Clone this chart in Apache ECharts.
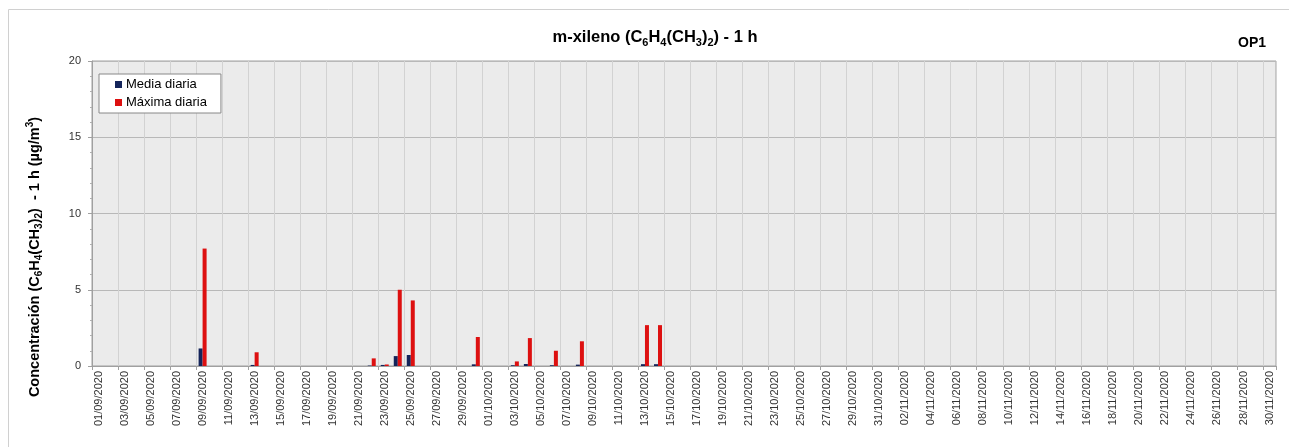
<!DOCTYPE html>
<html>
<head>
<meta charset="utf-8">
<script src="https://cdn.jsdelivr.net/npm/echarts@6/dist/echarts.min.js"></script>
<style>html,body{margin:0;padding:0;background:#fff}#c{width:1289px;height:447px}</style>
</head>
<body>
<div id="c"></div>
<script>
const categories = [
"01/09/2020","02/09/2020","03/09/2020","04/09/2020","05/09/2020","06/09/2020","07/09/2020","08/09/2020","09/09/2020","10/09/2020",
"11/09/2020","12/09/2020","13/09/2020","14/09/2020","15/09/2020","16/09/2020","17/09/2020","18/09/2020","19/09/2020","20/09/2020",
"21/09/2020","22/09/2020","23/09/2020","24/09/2020","25/09/2020","26/09/2020","27/09/2020","28/09/2020","29/09/2020","30/09/2020",
"01/10/2020","02/10/2020","03/10/2020","04/10/2020","05/10/2020","06/10/2020","07/10/2020","08/10/2020","09/10/2020","10/10/2020",
"11/10/2020","12/10/2020","13/10/2020","14/10/2020","15/10/2020","16/10/2020","17/10/2020","18/10/2020","19/10/2020","20/10/2020",
"21/10/2020","22/10/2020","23/10/2020","24/10/2020","25/10/2020","26/10/2020","27/10/2020","28/10/2020","29/10/2020","30/10/2020",
"31/10/2020","01/11/2020","02/11/2020","03/11/2020","04/11/2020","05/11/2020","06/11/2020","07/11/2020","08/11/2020","09/11/2020",
"10/11/2020","11/11/2020","12/11/2020","13/11/2020","14/11/2020","15/11/2020","16/11/2020","17/11/2020","18/11/2020","19/11/2020",
"20/11/2020","21/11/2020","22/11/2020","23/11/2020","24/11/2020","25/11/2020","26/11/2020","27/11/2020","28/11/2020","29/11/2020",
"30/11/2020"
];
const mediaDiaria = [
0,0,0,0,0,0,0,0,1.15,0,
0,0,0.07,0,0,0,0,0,0,0,
0,0.03,0.07,0.65,0.72,0,0,0,0,0.11,
0,0,0.05,0.13,0,0.05,0,0.09,0,0,
0,0,0.12,0.12,null,null,null,null,null,null,
null,null,null,null,null,null,null,null,null,null,
null,null,null,null,null,null,null,null,null,null,
null,null,null,null,null,null,null,null,null,null,
null,null,null,null,null,null,null,null,null,null,
null
];
const maximaDiaria = [
0,0,0,0,0,0,0,0,7.7,0,
0,0,0.9,0,0,0,0,0,0,0,
0,0.5,0.1,5.0,4.3,0,0,0,0,1.9,
0,0,0.3,1.83,0,1.0,0,1.62,0,0,
0,0,2.68,2.68,null,null,null,null,null,null,
null,null,null,null,null,null,null,null,null,null,
null,null,null,null,null,null,null,null,null,null,
null,null,null,null,null,null,null,null,null,null,
null,null,null,null,null,null,null,null,null,null,
null
];
const yTicks = {min: 0, max: 20, interval: 5};
const seriesNames = ["Media diaria", "Máxima diaria"];

const FONT = '"Liberation Sans", Arial, sans-serif';
const chart = echarts.init(document.getElementById('c'), null, {renderer: 'canvas'});
function subStyle(fs, va) { return {fontSize: fs, fontWeight: 'bold', fontFamily: FONT, color: '#000', verticalAlign: va, lineHeight: fs}; }
chart.setOption({
  animation: false,
  textStyle: {fontFamily: FONT},
  graphic: [
    {type: 'rect', left: 6, top: 7, shape: {width: 1281, height: 445}, style: {fill: 'none', stroke: '#d0d0d0', lineWidth: 1}, silent: true},
    {type: 'text', x: 35, y: 257, rotation: Math.PI / 2,
     style: {
       text: '{b|Concentración (C}{s|6}{b|H}{s|4}{b|(CH}{s|3}{b|)}{s|2}{b|)  - 1 h (µg/m}{p|3}{b|)}',
       align: 'center', verticalAlign: 'middle',
       rich: {
         b: {fontSize: 14.5, fontWeight: 'bold', fontFamily: FONT, color: '#000', lineHeight: 19},
         s: subStyle(10, 'bottom'), p: subStyle(10, 'top')
       }
     }}
  ],
  title: [
    {text: '{b|m-xileno (C}{s|6}{b|H}{s|4}{b|(CH}{s|3}{b|)}{s|2}{b|) - 1 h}', left: 650, top: 22, textAlign: 'center',
     textStyle: {rich: {b: {fontSize: 16.5, fontWeight: 'bold', fontFamily: FONT, color: '#000', lineHeight: 21}, s: subStyle(11, 'bottom')}}},
    {text: 'OP1', right: 18, top: 31, textStyle: {fontSize: 14, fontWeight: 'bold', fontFamily: FONT, color: '#000'}}
  ],
  legend: {
    orient: 'vertical', left: 99, top: 74,
    data: seriesNames,
    icon: 'rect', itemWidth: 7, itemHeight: 7, itemGap: 3,
    padding: [3, 14, 3, 16],
    backgroundColor: '#fff', borderColor: '#888', borderWidth: 1, borderRadius: 0,
    textStyle: {fontSize: 13, color: '#000', fontFamily: FONT, lineHeight: 15, padding: [0, 0, 0, -1]}
  },
  grid: {left: 92, right: 13, top: 61, bottom: 81, show: true, backgroundColor: '#ebebeb', borderColor: '#a0a0a0', borderWidth: 1, containLabel: false},
  xAxis: {
    type: 'category', data: categories, boundaryGap: true,
    axisLine: {show: true, lineStyle: {color: '#a0a0a0'}},
    axisTick: {show: true, interval: 1, length: 4, lineStyle: {color: '#a0a0a0'}},
    axisLabel: {interval: 1, rotate: 90, fontSize: 11, color: '#333', fontFamily: FONT, margin: 5},
    splitLine: {show: true, interval: 1, lineStyle: {color: '#d2d2d2', width: 1}}
  },
  yAxis: {
    type: 'value', min: yTicks.min, max: yTicks.max, interval: yTicks.interval,
    axisLine: {show: true, lineStyle: {color: '#a0a0a0'}},
    axisTick: {show: true, length: 4, lineStyle: {color: '#a0a0a0'}},
    minorTick: {show: true, splitNumber: 5, length: 2, lineStyle: {color: '#b0b0b0'}},
    axisLabel: {fontSize: 11, color: '#333', fontFamily: FONT, margin: 11},
    splitLine: {show: true, lineStyle: {color: '#b8b8b8', width: 1}}
  },
  series: [
    {name: seriesNames[0], type: 'bar', data: mediaDiaria, barWidth: 4, barGap: '0%', itemStyle: {color: '#14245a'}},
    {name: seriesNames[1], type: 'bar', data: maximaDiaria, barWidth: 4, barGap: '0%', itemStyle: {color: '#dd1010'}}
  ]
});
</script>
</body>
</html>
